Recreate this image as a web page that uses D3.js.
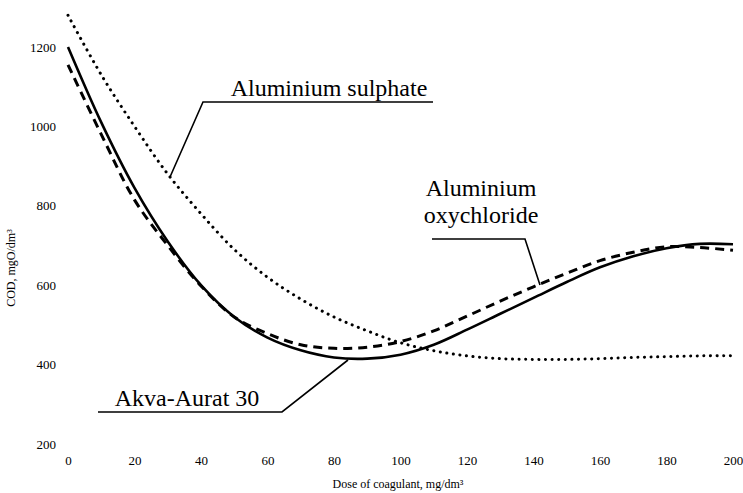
<!DOCTYPE html>
<html>
<head>
<meta charset="utf-8">
<script src="https://cdn.jsdelivr.net/npm/d3@7"></script>
<style>
  body { margin: 0; background: #fff; }
  text { font-family: "Liberation Serif", "Times New Roman", serif; fill: #000; }
</style>
</head>
<body>
<div id="chart"></div>
<script>
// data
var doses = [0, 10, 20, 30, 40, 50, 60, 70, 80, 90, 100, 110, 120, 130, 140, 150, 160, 170, 180, 190, 200];
var akvaAurat = [1200, 1010, 845, 710, 600, 520, 468, 436, 418, 415, 425, 450, 488, 528, 568, 608, 645, 673, 693, 704, 703];
var oxychloride = [1155, 980, 815, 700, 598, 520, 478, 450, 441, 444, 458, 485, 522, 560, 596, 630, 662, 683, 697, 695, 688];
var sulphate = [1280, 1130, 1000, 880, 780, 690, 620, 565, 520, 485, 455, 435, 422, 415, 413, 413, 415, 418, 420, 422, 422];
var xTicks = [0, 20, 40, 60, 80, 100, 120, 140, 160, 180, 200];
var yTicks = [200, 400, 600, 800, 1000, 1200];

var width = 743, height = 493;

var svg = d3.select("#chart")
    .append("svg")
    .attr("width", width)
    .attr("height", height);

var x = d3.scaleLinear().domain([0, 200]).range([68, 733]);
var y = d3.scaleLinear().domain([200, 1200]).range([444, 47]);

// axes: labels only, no lines
var xAxis = svg.append("g")
    .attr("transform", "translate(0,444)")
    .call(d3.axisBottom(x).tickValues(xTicks).tickFormat(d3.format("d")).tickSize(0).tickPadding(12));
var yAxis = svg.append("g")
    .attr("transform", "translate(68,0)")
    .call(d3.axisLeft(y).tickValues(yTicks).tickFormat(d3.format("d")).tickSize(0).tickPadding(12));
[xAxis, yAxis].forEach(function(a) {
    a.attr("font-family", null);
    a.select(".domain").remove();
    a.selectAll("text").style("font-size", "13px").style("font-family", "Liberation Serif");
});

// axis titles
svg.append("text")
    .attr("x", 398)
    .attr("y", 488)
    .attr("text-anchor", "middle")
    .style("font-size", "12px")
    .text("Dose of coagulant, mg/dm³");

svg.append("text")
    .attr("transform", "translate(15,268) rotate(-90)")
    .attr("text-anchor", "middle")
    .style("font-size", "12px")
    .text("COD, mgO/dm³");

// curves
var line = d3.line()
    .x(function(d) { return x(d[0]); })
    .y(function(d) { return y(d[1]); })
    .curve(d3.curveCatmullRom);

function pairs(vals) { return doses.map(function(d, i) { return [d, vals[i]]; }); }

svg.append("path")
    .attr("d", line(pairs(sulphate)))
    .attr("fill", "none")
    .attr("stroke", "#000")
    .attr("stroke-width", 3)
    .attr("stroke-linecap", "round")
    .attr("stroke-dasharray", "0.1 6.5");

svg.append("path")
    .attr("d", line(pairs(oxychloride)))
    .attr("fill", "none")
    .attr("stroke", "#000")
    .attr("stroke-width", 3)
    .attr("stroke-dasharray", "9 6");

svg.append("path")
    .attr("d", line(pairs(akvaAurat)))
    .attr("fill", "none")
    .attr("stroke", "#000")
    .attr("stroke-width", 2.6);

// callouts
var callouts = [
    { lines: ["Aluminium sulphate"], tx: 329, ty: 96, pts: [[433, 102], [203, 102], [170, 177]] },
    { lines: ["Aluminium", "oxychloride"], tx: 481, ty: 196, pts: [[432, 239], [525, 239], [540, 285]] },
    { lines: ["Akva-Aurat 30"], tx: 187, ty: 406, pts: [[98, 412], [282, 412], [348, 360]] }
];

callouts.forEach(function(c) {
    var t = svg.append("text")
        .attr("x", c.tx)
        .attr("y", c.ty)
        .attr("text-anchor", "middle")
        .style("font-size", "24px");
    c.lines.forEach(function(l, i) {
        t.append("tspan").attr("x", c.tx).attr("dy", i === 0 ? 0 : 27).text(l);
    });
    svg.append("path")
        .attr("d", d3.line()(c.pts))
        .attr("fill", "none")
        .attr("stroke", "#000")
        .attr("stroke-width", 1.6);
});
</script>
</body>
</html>
